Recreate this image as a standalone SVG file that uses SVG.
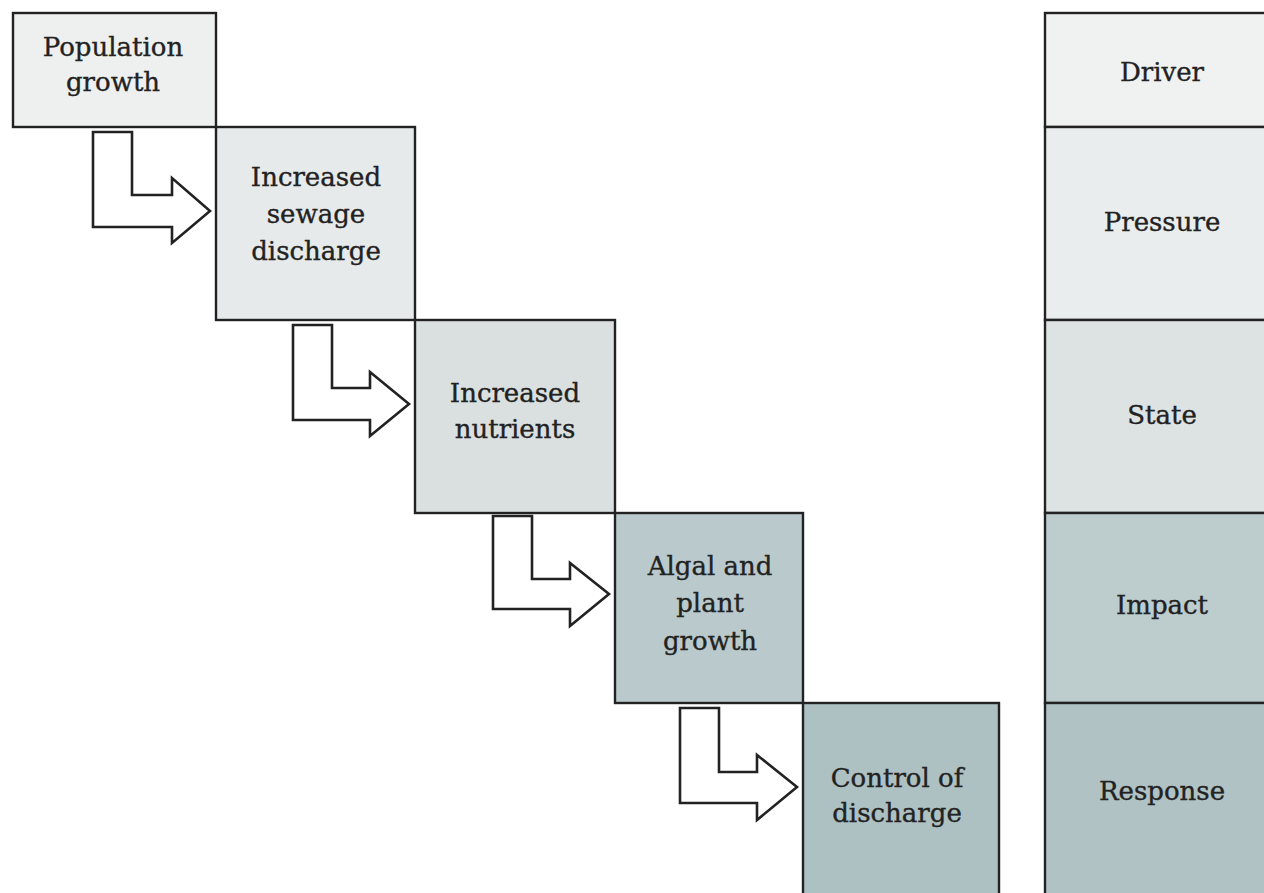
<svg xmlns="http://www.w3.org/2000/svg" width="1264" height="893" viewBox="0 0 1264 893">
<style>
.box{stroke:#222;stroke-width:2.4}
.arrow{fill:#fff;stroke:#222;stroke-width:2.6;stroke-linejoin:miter}
text{font-family:"DejaVu Serif","Liberation Serif",serif;font-size:26px;fill:#222;stroke:#222;stroke-width:0.35;text-anchor:middle}
</style>
<rect x="0" y="0" width="1264" height="893" fill="#fff"/>
<g id="connectors">
<path class="arrow" d="M93,132 H132 V195 H172 V178 L210,211 L172,243 V227 H93 Z"/>
<path class="arrow" d="M293,325 H332 V388 H370 V372 L409,404 L370,436 V420 H293 Z"/>
<path class="arrow" d="M493,516 H532 V579 H570 V563 L609,594 L570,626 V609 H493 Z"/>
<path class="arrow" d="M680,708 H719 V772 H757 V755 L797,787 L757,820 V803 H680 Z"/>
</g>
<g id="n1">
<rect class="box" x="13" y="13" width="203" height="114" fill="#eef0ef"/>
<text x="113" y="56">Population</text>
<text x="113" y="91">growth</text>
</g>
<g id="n2">
<rect class="box" x="216" y="127" width="199" height="193" fill="#e7eaea"/>
<text x="316" y="186">Increased</text>
<text x="316" y="223">sewage</text>
<text x="316" y="260">discharge</text>
</g>
<g id="n3">
<rect class="box" x="415" y="320" width="200" height="193" fill="#dae0e0"/>
<text x="515" y="402">Increased</text>
<text x="515" y="438">nutrients</text>
</g>
<g id="n4">
<rect class="box" x="615" y="513" width="188" height="190" fill="#bacacc"/>
<text x="710" y="575">Algal and</text>
<text x="710" y="612">plant</text>
<text x="710" y="650">growth</text>
</g>
<g id="n5">
<rect class="box" x="803" y="703" width="196" height="200" fill="#adc0c2"/>
<text x="897" y="787">Control of</text>
<text x="897" y="822">discharge</text>
</g>
<g id="dpsir">
<rect class="box" x="1045" y="13" width="240" height="114" fill="#f0f2f1"/>
<rect class="box" x="1045" y="127" width="240" height="193" fill="#eaeded"/>
<rect class="box" x="1045" y="320" width="240" height="193" fill="#dde3e3"/>
<rect class="box" x="1045" y="513" width="240" height="190" fill="#bdcccd"/>
<rect class="box" x="1045" y="703" width="240" height="200" fill="#b0c2c4"/>
<text x="1162" y="81">Driver</text>
<text x="1162" y="231">Pressure</text>
<text x="1162" y="424">State</text>
<text x="1162" y="614">Impact</text>
<text x="1162" y="800">Response</text>
</g>
</svg>
